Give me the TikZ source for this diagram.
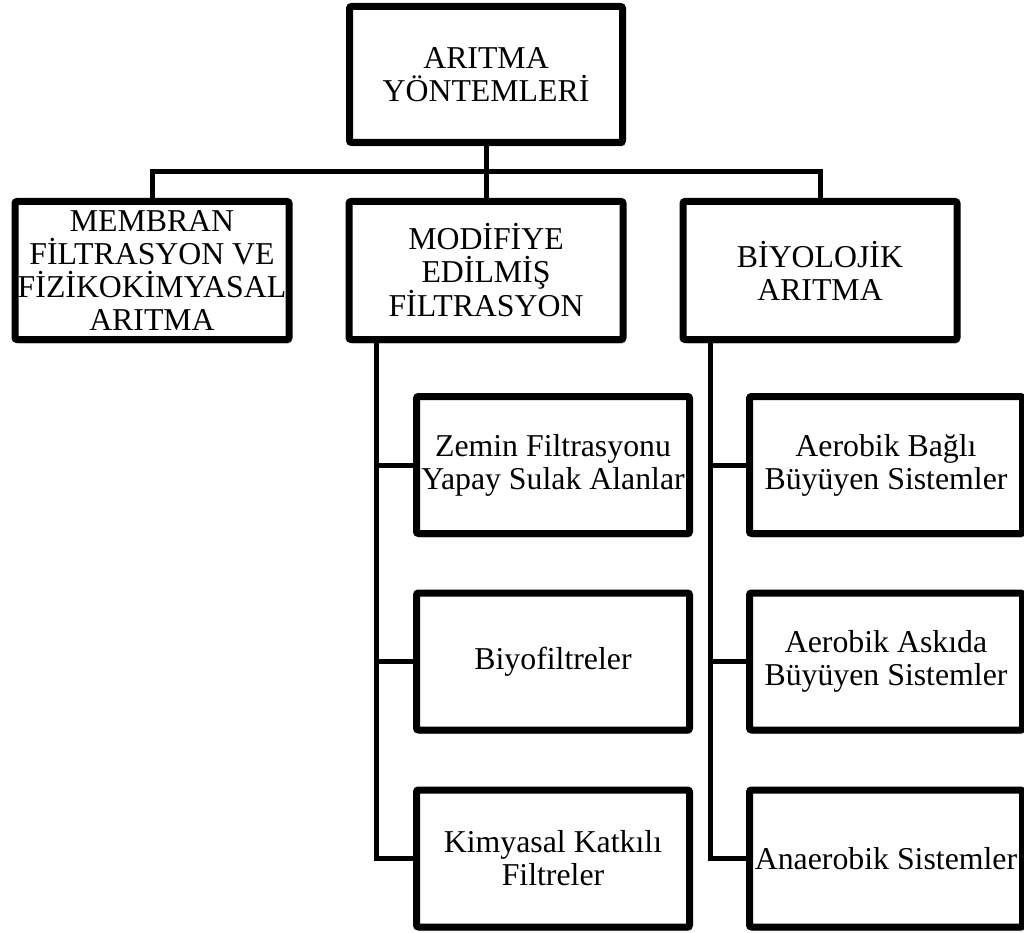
\documentclass[tikz,border=0pt]{standalone}
\usepackage{fontspec}
\setmainfont{Liberation Serif}
\usetikzlibrary{shadows}
\begin{document}
\begin{tikzpicture}[x=1pt,y=-1pt,
  box/.style={draw=black, line width=7pt, fill=white, rounded corners=2pt,
    inner sep=0pt, outer sep=0pt, align=center,
    font=\fontsize{31.8}{33}\selectfont,
    drop shadow={shadow xshift=2pt, shadow yshift=-4pt, opacity=0.22, fill=black}},
  lvtwo/.style={box, minimum width=274pt, minimum height=138pt},
  lvthree/.style={box, minimum width=273pt, minimum height=137pt},
  conn/.style={line width=5pt}]
\useasboundingbox (0,0) rectangle (1024,933);
\clip (0,0) rectangle (1024,933);

% top
\node[box, minimum width=273pt, minimum height=136pt] (top) at (486,74.5) {ARITMA\\YÖNTEMLERİ};

% level 2
\node[lvtwo] (m1) at (152,270.5) {MEMBRAN\\FİLTRASYON VE\\FİZİKOKİMYASAL\\ARITMA};
\node[lvtwo] (m2) at (486,270.5) {MODİFİYE\\EDİLMİŞ\\FİLTRASYON};
\node[lvtwo] (m3) at (820,270.5) {BİYOLOJİK\\ARITMA};

% level 3 middle
\node[lvthree] (z1) at (553,465) {Zemin Filtrasyonu\\Yapay Sulak Alanlar};
\node[lvthree] (z2) at (553,661.5) {Biyofiltreler};
\node[lvthree] (z3) at (553,858.5) {Kimyasal Katkılı\\Filtreler};

% level 3 right
\node[lvthree] (b1) at (886,465) {Aerobik Bağlı\\Büyüyen Sistemler};
\node[lvthree] (b2) at (886,661.5) {Aerobik Askıda\\Büyüyen Sistemler};
\node[lvthree] (b3) at (886,858.5) {Anaerobik Sistemler};

% connectors
\coordinate (bus) at (0,172);
\coordinate (vm) at (376,340);
\coordinate (vb) at (710,340);
\draw[conn] (top.south) -- (m2.north);
\draw[conn] (m1.north) -- (m1.north |- bus) -- (m3.north |- bus) -- (m3.north);
\draw[conn] (vm) -- (vm |- z3.west) -- (z3.west);
\draw[conn] (vm |- z1.west) -- (z1.west);
\draw[conn] (vm |- z2.west) -- (z2.west);
\draw[conn] (vb) -- (vb |- b3.west) -- (b3.west);
\draw[conn] (vb |- b1.west) -- (b1.west);
\draw[conn] (vb |- b2.west) -- (b2.west);
\end{tikzpicture}
\end{document}
